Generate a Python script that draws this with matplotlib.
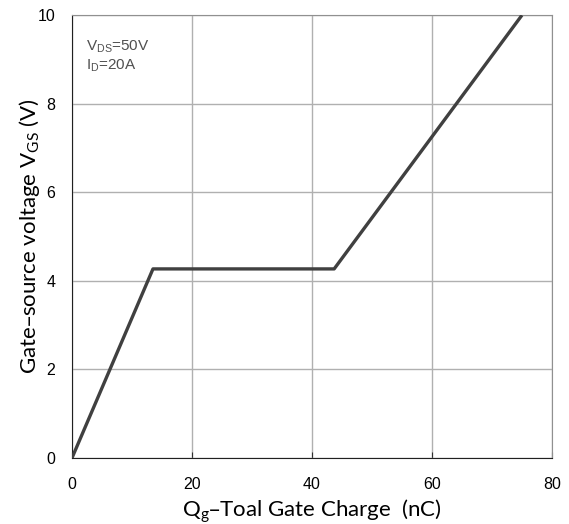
import matplotlib
matplotlib.use("Agg")
import matplotlib.pyplot as plt

# gate charge curve (nC, V)
qg = [0, 13.5, 43.7, 75]
vgs = [0, 4.27, 4.27, 10]
x_ticks = [0, 20, 40, 60, 80]
y_ticks = [0, 2, 4, 6, 8, 10]

plt.rcParams['font.family'] = ['Liberation Sans', 'DejaVu Sans']

fig = plt.figure(figsize=(5.69, 5.24), dpi=100)
ax = fig.add_axes([0.1265, 0.126, 0.8435, 0.845])

ax.plot(qg, vgs, color='#404040', linewidth=2.4, solid_capstyle='butt', zorder=3)

ax.set_xlim(0, 80)
ax.set_ylim(0, 10)
ax.set_xticks(x_ticks)
ax.set_yticks(y_ticks)
ax.grid(True, color='#b0b0b0', linewidth=1.0)
ax.tick_params(axis='x', direction='in', length=4, labelsize=11.5, pad=13.5, color='#303030')
ax.tick_params(axis='y', length=0, labelsize=11.5, pad=12)

for side in ['left', 'bottom']:
    ax.spines[side].set_color('#202020')
for side in ['top', 'right']:
    ax.spines[side].set_color('#909090')

lab_font = ['Lato', 'DejaVu Sans']
ax.set_xlabel('Q$_\\mathregular{g}$\u2013Toal Gate Charge  (nC)', fontsize=16, family=lab_font)
ax.set_ylabel('Gate\u2013source voltage V$_\\mathregular{GS}$ (V)', fontsize=16, family=lab_font)
ax.xaxis.set_label_coords(0.5, -0.088)
ax.yaxis.set_label_coords(-0.062, 0.5)

ax.text(0.029, 0.930, 'V$_\\mathregular{DS}$=50V', transform=ax.transAxes, fontsize=11, color='#505050', va='center')
ax.text(0.029, 0.885, 'I$_\\mathregular{D}$=20A', transform=ax.transAxes, fontsize=11, color='#505050', va='center')

fig.savefig('out.png', dpi=100)
